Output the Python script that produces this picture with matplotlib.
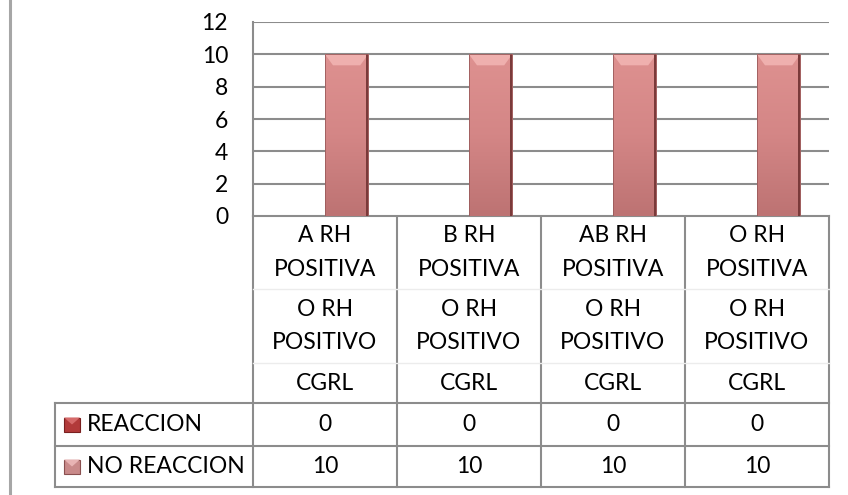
import matplotlib
matplotlib.use("Agg")
import matplotlib.pyplot as plt
import numpy as np
from matplotlib.patches import Polygon, Rectangle
from matplotlib.colors import LinearSegmentedColormap

plt.rcParams['font.family'] = ['Lato', 'DejaVu Sans']

# ---- data ----
cat_level1 = ["A RH\nPOSITIVA", "B RH\nPOSITIVA", "AB RH\nPOSITIVA", "O RH\nPOSITIVA"]
cat_level2 = ["O RH\nPOSITIVO", "O RH\nPOSITIVO", "O RH\nPOSITIVO", "O RH\nPOSITIVO"]
cat_level3 = ["CGRL", "CGRL", "CGRL", "CGRL"]
series_names = ["REACCION", "NO REACCION"]
reaccion = [0, 0, 0, 0]
no_reaccion = [10, 10, 10, 10]
y_ticks = [0, 2, 4, 6, 8, 10, 12]

W, H = 848, 495
fig = plt.figure(figsize=(W / 100, H / 100), dpi=100)
fig.patch.set_facecolor("white")

def fx(px):
    return px / W

def fy(py):
    return 1 - py / H

# plot area in pixel coordinates
L, R, T, B = 253, 829, 22, 216
ax = fig.add_axes([fx(L), fy(B), fx(R) - fx(L), fy(T) - fy(B)])
ax.set_xlim(-0.5, 3.5)
ax.set_ylim(0, 12)
ax.set_yticks(y_ticks)
ax.set_xticks([])
ax.tick_params(axis="y", length=0, pad=18, labelsize=16.5)
for s in ["top", "right", "bottom"]:
    ax.spines[s].set_visible(False)
ax.spines["left"].set_color("#8c8c8c")
ax.spines["left"].set_linewidth(1.5)
ax.yaxis.grid(True, color="#8c8c8c", linewidth=1.5)
ax.set_axisbelow(True)

x = np.arange(len(cat_level1))
bw = 0.3
px_per_unit = (B - T) / 12.0
px_per_x = (R - L) / 4.0

pink_cmap = LinearSegmentedColormap.from_list(
    "pink", ["#de9190", "#d48686", "#bd7373"])
red_cmap = LinearSegmentedColormap.from_list(
    "red", ["#c65050", "#b23a3a", "#8f2a2a"])

def draw_bars(xs, vals, cmap, bevel_col, edge_col):
    bars = ax.bar(xs, vals, width=bw, color="none", edgecolor="none", zorder=3)
    grad = np.linspace(0, 1, 64).reshape(-1, 1)
    for b in bars:
        x0, y0 = b.get_x(), b.get_y()
        w, h = b.get_width(), b.get_height()
        if h <= 0:
            continue
        im = ax.imshow(grad, cmap=cmap, aspect="auto",
                       extent=[x0, x0 + w, y0, y0 + h], zorder=3,
                       interpolation="bilinear")
        im.set_clip_path(b)
        dy = 11 / px_per_unit
        dx = 8 / px_per_x
        ax.add_patch(Polygon([[x0, y0 + h], [x0 + w, y0 + h],
                              [x0 + w - dx, y0 + h - dy], [x0 + dx, y0 + h - dy]],
                             closed=True, facecolor=bevel_col, edgecolor="none",
                             zorder=4))
        ax.add_patch(Rectangle((x0 + w - 2.5 / px_per_x, y0), 2.5 / px_per_x, h,
                               facecolor=edge_col, edgecolor="none", zorder=5))
        ax.add_patch(Rectangle((x0, y0), w, h, facecolor="none",
                               edgecolor="#9a5a5a", linewidth=0.6, zorder=5))
    ax.set_xlim(-0.5, 3.5)
    ax.set_ylim(0, 12)

draw_bars(x - bw / 2, reaccion, red_cmap, "#d87070", "#6a2020")
draw_bars(x + bw / 2, no_reaccion, pink_cmap, "#efb0ae", "#7a3a3a")

# ---- data table below the plot ----
tx = fig.add_axes([0, 0, 1, 1], zorder=-1)
tx.set_xlim(0, W)
tx.set_ylim(H, 0)
tx.axis("off")

# chart border fragment on the left
tx.plot([10, 10], [0, H], color="#a6a6a6", lw=2.2)

col_edges = [L, 397, 541, 685, R]
row_l1, row_l2, row_cat, row_r1, row_r2 = 216, 289, 363, 403, 446
table_bottom = 487
leg_left = 55
grid_c = "#8c8c8c"

for ce in col_edges:
    tx.plot([ce, ce], [B, table_bottom], color=grid_c, lw=1.5)
tx.plot([leg_left, leg_left], [row_r1, table_bottom], color=grid_c, lw=1.5)
for yy in [row_r1, row_r2, table_bottom]:
    tx.plot([leg_left, R], [yy, yy], color=grid_c, lw=1.5)
tx.plot([L, R], [B, B], color=grid_c, lw=1.5)
for yy in [row_l2, row_cat]:
    tx.plot([L, R], [yy, yy], color="#ececec", lw=1.0)

fs = 16.5
ls = 1.72
for i in range(len(cat_level1)):
    cx = (col_edges[i] + col_edges[i + 1]) / 2
    tx.text(cx, (row_l1 + row_l2) / 2, cat_level1[i], ha="center", va="center",
            fontsize=fs, linespacing=ls)
    tx.text(cx, (row_l2 + row_cat) / 2, cat_level2[i], ha="center", va="center",
            fontsize=fs, linespacing=ls)
    tx.text(cx, (row_cat + row_r1) / 2, cat_level3[i], ha="center", va="center",
            fontsize=fs)
    tx.text(cx, (row_r1 + row_r2) / 2, str(reaccion[i]), ha="center",
            va="center", fontsize=fs)
    tx.text(cx, (row_r2 + table_bottom) / 2, str(no_reaccion[i]), ha="center",
            va="center", fontsize=fs)

# legend keys inside the table
key_cols = [("#b23a3a", "#d66a6a", "#7a2020"), ("#c98a8a", "#e8b4b4", "#8a5050")]
for name, (y0, y1), (fc, hc, ec) in zip(series_names,
                                         [(row_r1, row_r2), (row_r2, table_bottom)],
                                         key_cols):
    cy = (y0 + y1) / 2
    k0, k1 = 64, 80
    tx.add_patch(Rectangle((k0, cy - 7), k1 - k0, 14, facecolor=fc,
                           edgecolor=ec, lw=0.8))
    tx.add_patch(Polygon([[k0, cy - 7], [k1, cy - 7], [(k0 + k1) / 2, cy]],
                         closed=True, facecolor=hc, edgecolor="none"))
    tx.text(87, cy, name, ha="left", va="center", fontsize=fs)

fig.savefig("out.png", dpi=100, facecolor="white")
